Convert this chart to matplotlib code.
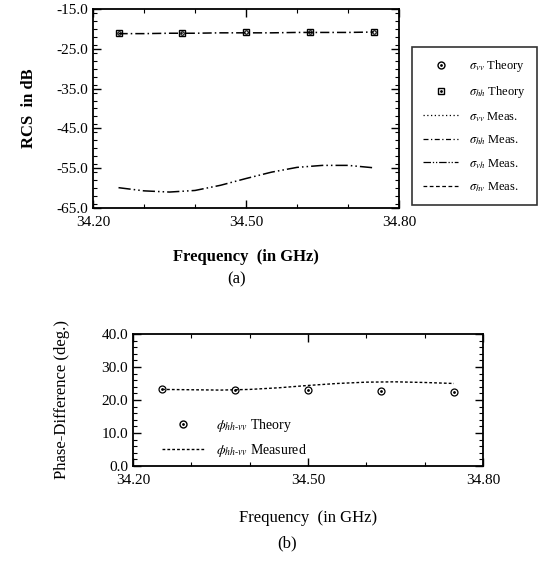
import numpy as np
import matplotlib.pyplot as plt
from matplotlib.lines import Line2D
from matplotlib.legend_handler import HandlerTuple
from matplotlib.ticker import MultipleLocator, FormatStrFormatter

plt.rcParams['font.family'] = ['Liberation Serif', 'DejaVu Serif']
plt.rcParams['mathtext.fontset'] = 'stix'

# frequencies (GHz)
freq_theory = [34.25, 34.375, 34.50, 34.625, 34.75]
freq_meas = [34.25, 34.30, 34.35, 34.40, 34.45, 34.50, 34.55, 34.60, 34.65, 34.70, 34.75]

# (a) RCS in dB
vv_theory = [-21.0, -21.0, -20.9, -20.9, -20.8]
hh_theory = [-21.0, -21.0, -20.9, -20.9, -20.8]
hh_meas = [-21.2, -21.2, -21.1, -21.1, -21.0, -21.0, -21.0, -20.9, -20.9, -20.9, -20.8]
vh_meas = [-59.9, -60.7, -61.0, -60.6, -59.3, -57.6, -56.0, -54.8, -54.3, -54.3, -54.9]

# (b) phase difference (deg.)
phase_theory = [23.4, 23.1, 22.9, 22.6, 22.4]
phase_meas = [23.2, 23.1, 23.0, 23.2, 23.7, 24.4, 25.0, 25.4, 25.5, 25.3, 25.0]

fig = plt.figure(figsize=(5.42, 5.63), dpi=100)

# ---- (a) ----
ax1 = fig.add_axes([0.1716, 0.6306, 0.5646, 0.3535])
ax1.plot(freq_meas, hh_meas, color='black', lw=1.1, dashes=(6, 2, 1, 2))
ax1.plot(freq_meas, vh_meas, color='black', lw=1.1, dashes=(8, 2, 1, 2, 1, 2))
ax1.plot(freq_theory, vv_theory, ls='none', marker='o', ms=2.5, mfc='none', mec='black', mew=0.8)
ax1.plot(freq_theory, hh_theory, ls='none', marker='s', ms=5, mfc='none', mec='black', mew=1.0)
ax1.set_xlim(34.2, 34.8)
ax1.set_ylim(-65, -15)
ax1.set_xticks([34.2, 34.5, 34.8])
ax1.xaxis.set_minor_locator(MultipleLocator(0.1))
ax1.set_yticks(np.arange(-65, -14, 10))
ax1.yaxis.set_minor_locator(MultipleLocator(2))
ax1.xaxis.set_major_formatter(FormatStrFormatter('%.2f'))
ax1.yaxis.set_major_formatter(FormatStrFormatter('%.1f'))
ax1.set_ylabel('RCS  in dB', fontsize=12, fontweight='bold', labelpad=14)
ax1.set_xlabel('Frequency  (in GHz)', fontsize=12, fontweight='bold', labelpad=14)

dot = dict(ls='none', marker='o', ms=1.0, mfc='black', mec='black')
overlay = {tuple: HandlerTuple(ndivide=1)}
handles = [
    (Line2D([], [], ls='none', marker='o', ms=5, mfc='none', mec='black'), Line2D([], [], **dot)),
    (Line2D([], [], ls='none', marker='s', ms=5, mfc='none', mec='black'), Line2D([], [], **dot)),
    Line2D([], [], color='black', lw=0.9, ls=(0, (1, 2))),
    Line2D([], [], color='black', lw=0.9, dashes=(4, 2, 1, 2)),
    Line2D([], [], color='black', lw=0.9, dashes=(6, 1.5, 1, 1.5, 1, 1.5)),
    Line2D([], [], color='black', lw=0.9, dashes=(3, 2)),
]
labels = [r'$\sigma_{vv}$ Theory', r'$\sigma_{hh}$ Theory', r'$\sigma_{vv}$ Meas.',
          r'$\sigma_{hh}$ Meas.', r'$\sigma_{vh}$ Meas.', r'$\sigma_{hv}$ Meas.']
leg = fig.legend(handles, labels, loc='upper left', bbox_to_anchor=(0.760, 1 - 47 / 563),
                 borderaxespad=0, fontsize=9, frameon=True, fancybox=False, edgecolor='black',
                 handlelength=2.8, labelspacing=0.78, borderpad=0.9, handletextpad=0.9,
                 handler_map=overlay)
leg.get_frame().set_linewidth(1.2)

# ---- (b) ----
ax2 = fig.add_axes([0.2454, 0.1723, 0.6458, 0.2345])
ax2.plot(freq_meas, phase_meas, color='black', lw=1.0, ls=(0, (2, 1.5)))
ax2.plot(freq_theory, phase_theory, ls='none', marker='o', ms=5, mfc='none', mec='black', mew=0.9)
ax2.plot(freq_theory, phase_theory, **dot)
ax2.set_xlim(34.2, 34.8)
ax2.set_ylim(0, 40)
ax2.set_xticks([34.2, 34.5, 34.8])
ax2.xaxis.set_minor_locator(MultipleLocator(0.1))
ax2.yaxis.set_major_locator(MultipleLocator(10))
ax2.yaxis.set_minor_locator(MultipleLocator(2))
ax2.xaxis.set_major_formatter(FormatStrFormatter('%.2f'))
ax2.yaxis.set_major_formatter(FormatStrFormatter('%.1f'))
ax2.set_ylabel('Phase-Difference (deg.)', fontsize=12, labelpad=23)
ax2.set_xlabel('Frequency  (in GHz)', fontsize=12, labelpad=16)
h2 = [(Line2D([], [], ls='none', marker='o', ms=5, mfc='none', mec='black'), Line2D([], [], **dot)),
      Line2D([], [], color='black', lw=1.0, ls=(0, (2, 1.5)))]
l2 = [r'$\phi_{hh\text{-}vv}$ Theory', r'$\phi_{hh\text{-}vv}$ Measured']
ax2.legend(h2, l2, loc='lower left', bbox_to_anchor=(0.067, 0.01), borderaxespad=0,
           fontsize=10, frameon=False, handlelength=3.0, labelspacing=0.6,
           handletextpad=0.9, handler_map=overlay)

for ax in (ax1, ax2):
    ax.tick_params(which='both', direction='in', top=True, right=True, labelsize=11)
    ax.tick_params(which='major', length=6, width=1.0)
    ax.tick_params(which='minor', length=3, width=0.8)
    ax.tick_params(axis='x', which='major', pad=6)
    for s in ax.spines.values():
        s.set_linewidth(1.3)

fig.text(0.437, 1 - 279 / 563, '(a)', ha='center', va='center', fontsize=12)
fig.text(0.53, 1 - 543 / 563, '(b)', ha='center', va='center', fontsize=12)

fig.savefig('out.png', dpi=100)
